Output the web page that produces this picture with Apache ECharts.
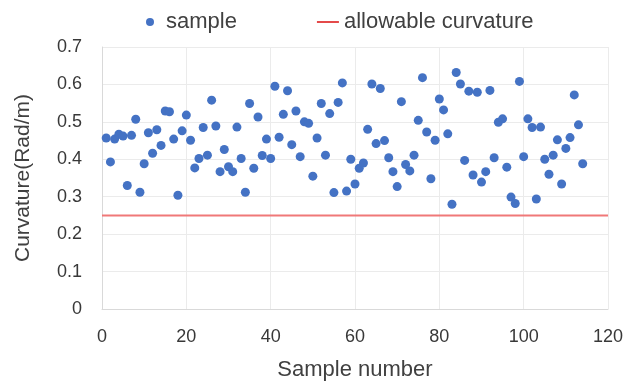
<!DOCTYPE html>
<html>
<head>
<meta charset="utf-8">
<script src="https://cdn.jsdelivr.net/npm/echarts@6.0.0/dist/echarts.min.js"></script>
<style>
    html, body { margin: 0; padding: 0; background: #ffffff; }
    #curvatureChart { width: 633px; height: 386px; }
</style>
</head>
<body>
<div id="curvatureChart"></div>
<script>
// sample number (x) and measured curvature (y)
var sampleNo = [];
for (var i = 1; i <= 114; i++) {
    sampleNo.push(i);
}
var curvature = [
    0.457, 0.393, 0.454, 0.467, 0.462, 0.330, 0.464, 0.507, 0.312, 0.388,
    0.471, 0.416, 0.479, 0.437, 0.529, 0.527, 0.454, 0.304, 0.476, 0.518,
    0.451, 0.377, 0.402, 0.485, 0.411, 0.558, 0.489, 0.367, 0.426, 0.380,
    0.367, 0.486, 0.402, 0.312, 0.549, 0.376, 0.513, 0.410, 0.454, 0.402,
    0.595, 0.459, 0.520, 0.583, 0.439, 0.529, 0.407, 0.500, 0.496, 0.355,
    0.457, 0.549, 0.411, 0.522, 0.311, 0.552, 0.604, 0.315, 0.400, 0.334,
    0.376, 0.390, 0.480, 0.601, 0.442, 0.589, 0.450, 0.404, 0.367, 0.327,
    0.554, 0.386, 0.369, 0.411, 0.504, 0.618, 0.473, 0.348, 0.451, 0.561,
    0.532, 0.468, 0.280, 0.632, 0.601, 0.397, 0.582, 0.358, 0.579, 0.339,
    0.367, 0.584, 0.404, 0.499, 0.508, 0.379, 0.299, 0.282, 0.608, 0.407,
    0.508, 0.485, 0.294, 0.486, 0.400, 0.360, 0.411, 0.452, 0.334, 0.429,
    0.458, 0.572, 0.492, 0.388
];
// allowable curvature limit, drawn across the whole x range
var limitX = [0, 120];
var limitY = [0.25, 0.25];

var xTicks = [0, 20, 40, 60, 80, 100, 120];
var yTicks = [0, 0.1, 0.2, 0.3, 0.4, 0.5, 0.6, 0.7];

var sampleData = [];
for (var k = 0; k < sampleNo.length; k++) {
    sampleData.push([sampleNo[k], curvature[k]]);
}
var limitData = [];
for (var j = 0; j < limitX.length; j++) {
    limitData.push([limitX[j], limitY[j]]);
}

var myChart = echarts.init(document.getElementById("curvatureChart"));

var textColor = "#404040";
var fontName = "Liberation Sans";

var option = {
    animation: false,
    textStyle: {
        fontFamily: fontName
    },
    legend: {
        top: 6,
        left: 141,
        itemWidth: 22,
        itemHeight: 8,
        itemGap: 80,
        textStyle: {
            fontFamily: fontName,
            fontSize: 22,
            color: textColor
        },
        data: [{
            name: 'sample',
            icon: 'circle'
        }, {
            name: 'allowable curvature',
            icon: 'path://M0,0 L22,0 L22,2 L0,2 Z',
            itemStyle: { color: "#e44a4a" }
        }]
    },
    grid: {
        left: 102,
        right: 25,
        top: 47,
        bottom: 72
    },
    xAxis: {
        type: 'value',
        min: xTicks[0],
        max: xTicks[xTicks.length - 1],
        interval: 20,
        name: 'Sample number',
        nameLocation: 'middle',
        nameGap: 50,
        nameTextStyle: {
            fontFamily: fontName,
            fontSize: 22,
            color: textColor
        },
        axisLine: {
            show: true,
            lineStyle: { color: "#d9d9d9", width: 1 }
        },
        axisTick: { show: false },
        axisLabel: {
            margin: 19,
            fontSize: 18,
            color: "#383838",
            fontFamily: fontName
        },
        splitLine: {
            show: true,
            lineStyle: { color: "#ebebeb", width: 1 }
        }
    },
    yAxis: {
        type: 'value',
        min: yTicks[0],
        max: yTicks[yTicks.length - 1],
        interval: 0.1,
        name: 'Curvature(Rad/m)',
        nameLocation: 'middle',
        nameGap: 68,
        nameTextStyle: {
            fontFamily: fontName,
            fontSize: 21,
            color: textColor
        },
        axisLine: {
            show: true,
            lineStyle: { color: "#d9d9d9", width: 1 }
        },
        axisTick: { show: false },
        axisLabel: {
            margin: 20,
            fontSize: 18,
            color: "#383838",
            fontFamily: fontName,
            formatter: function(value) {
                return value === 0 ? '0' : value.toFixed(1);
            }
        },
        splitLine: {
            show: true,
            lineStyle: { color: "#ebebeb", width: 1 }
        }
    },
    series: [{
        name: 'sample',
        type: 'scatter',
        data: sampleData,
        symbol: 'circle',
        symbolSize: 9,
        itemStyle: {
            color: "#4472c4",
            opacity: 1
        },
        z: 3
    }, {
        name: 'allowable curvature',
        type: 'line',
        data: limitData,
        showSymbol: false,
        symbol: 'none',
        itemStyle: {
            color: "#ee6666"
        },
        lineStyle: {
            color: "#f07878",
            width: 2,
            type: 'solid'
        },
        z: 2
    }]
};

myChart.setOption(option);
</script>
</body>
</html>
